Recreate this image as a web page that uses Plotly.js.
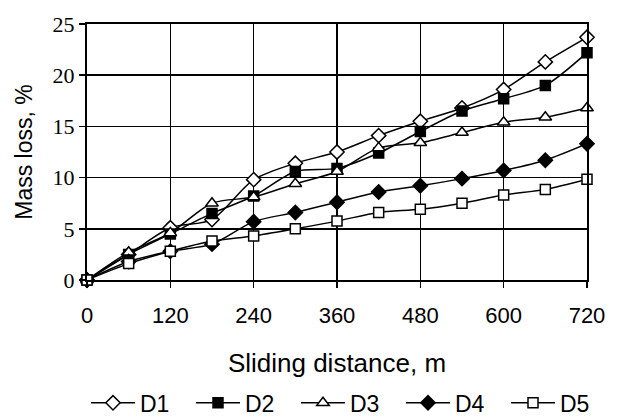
<!DOCTYPE html>
<html>
<head>
<meta charset="utf-8">
<script src="https://cdn.plot.ly/plotly-3.0.1.min.js"></script>
<style>html,body{margin:0;padding:0;background:#fff;}#chart{width:622px;height:419px;}</style>
</head>
<body>
<div id="chart"></div>
<script>
const distance = [0, 60, 120, 180, 240, 300, 360, 420, 480, 540, 600, 660, 720];
const D1 = [0, 2.5, 5.1, 5.9, 9.8, 11.4, 12.5, 14.1, 15.5, 16.8, 18.6, 21.3, 23.7];
const D2 = [0, 2.5, 4.5, 6.5, 8.2, 10.6, 10.9, 12.4, 14.5, 16.5, 17.7, 19.0, 22.2];
const D3 = [0, 2.7, 4.6, 7.5, 8.1, 9.4, 10.6, 12.9, 13.4, 14.4, 15.4, 15.9, 16.8];
const D4 = [0, 1.8, 2.8, 3.5, 5.7, 6.6, 7.6, 8.6, 9.2, 9.9, 10.7, 11.7, 13.3];
const D5 = [0, 1.6, 2.8, 3.8, 4.3, 5.0, 5.75, 6.6, 6.9, 7.5, 8.3, 8.85, 9.85];
const xTicks = [0, 120, 240, 360, 480, 600, 720];
const yTicks = [0, 5, 10, 15, 20, 25];

const seriesNames = ['D1', 'D2', 'D3', 'D4', 'D5'];
const seriesData = [D1, D2, D3, D4, D5];
const symbols = ['diamond', 'square', 'triangle-up', 'diamond', 'square'];
const fills = ['#fff', '#000', '#fff', '#000', '#fff'];
const sizes = [11, 10, 11, 11, 10];

const SANS = 'Liberation Sans, Arial, sans-serif';
const SERIF = 'Liberation Serif, Times New Roman, serif';

const traces = seriesNames.map((n, i) => ({
  x: distance, y: seriesData[i], name: n, type: 'scatter', mode: 'lines+markers',
  line: {color: '#000', width: 1.5, shape: 'spline', smoothing: 0.8},
  marker: {symbol: symbols[i], size: sizes[i], color: fills[i],
           line: {color: '#000', width: 1.5}},
  cliponaxis: false
}));

const layout = {
  width: 622, height: 419,
  margin: {l: 87, r: 35, t: 24, b: 139, autoexpand: false},
  paper_bgcolor: '#fff', plot_bgcolor: '#fff',
  showlegend: true,
  legend: {orientation: 'h', x: -0.002, xanchor: 'left', y: -0.48, yanchor: 'middle',
           font: {family: SANS, size: 23, color: '#000'}, itemwidth: 44,
           entrywidth: 46, entrywidthmode: 'pixels'},
  xaxis: {
    range: [0, 720], tickvals: xTicks, ticktext: xTicks.map(String), automargin: false,
    showgrid: true, gridcolor: '#000', gridwidth: 1.5,
    showline: true, linecolor: '#000', linewidth: 2, mirror: true,
    ticks: 'outside', ticklen: 6, tickcolor: '#000', tickwidth: 1.5,
    ticklabelstandoff: 9,
    zeroline: false,
    tickfont: {family: SANS, size: 22, color: '#000'},
    title: {text: 'Sliding distance, m', font: {family: SANS, size: 26, color: '#000'}, standoff: 26}
  },
  yaxis: {
    range: [0, 25], tickvals: yTicks, ticktext: yTicks.map(String), automargin: false,
    showgrid: true, gridcolor: '#000', gridwidth: 1.5,
    showline: true, linecolor: '#000', linewidth: 2, mirror: true,
    ticks: 'outside', ticklen: 6, tickcolor: '#000', tickwidth: 1.5,
    zeroline: false,
    tickfont: {family: SERIF, size: 22, color: '#000'},
    title: {text: 'Mass loss, %', font: {family: SANS, size: 23, color: '#000'}, standoff: 14}
  }
};
Plotly.newPlot('chart', traces, layout, {staticPlot: true, displayModeBar: false});
</script>
</body>
</html>
